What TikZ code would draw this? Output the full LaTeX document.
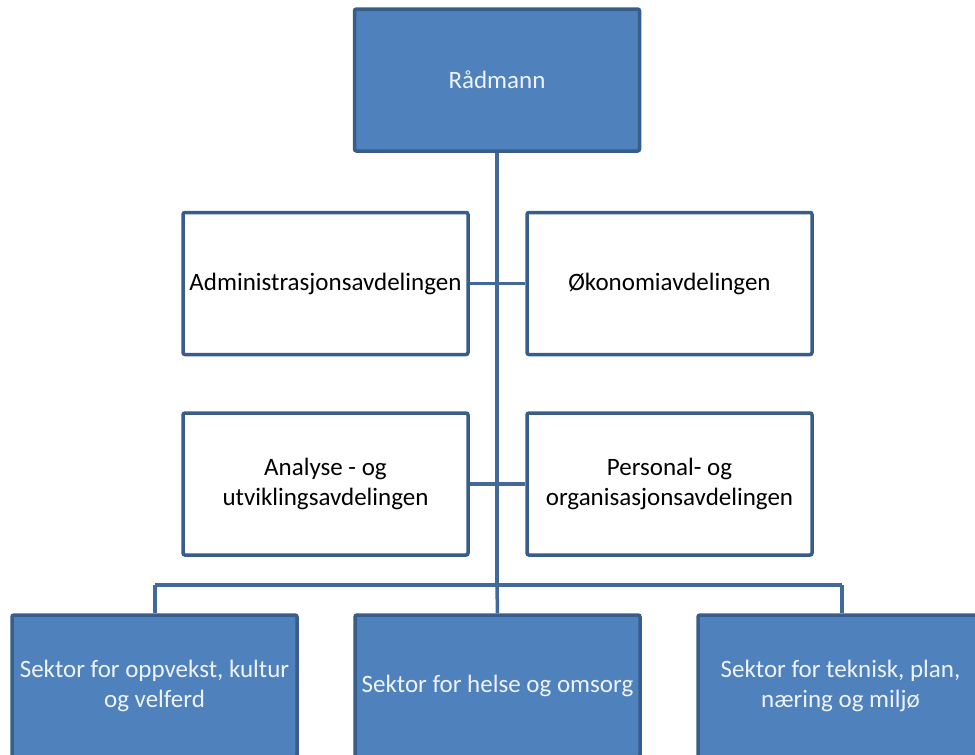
\documentclass[tikz,border=0pt]{standalone}
\usepackage{fontspec}
\setmainfont{Carlito}
\definecolor{boxfill}{HTML}{4F81BD}
\definecolor{boxline}{HTML}{385D8A}
\definecolor{conline}{HTML}{42699A}
\definecolor{lighttext}{HTML}{EEF3FA}
\begin{document}
\begin{tikzpicture}[x=1pt,y=-1pt,
  base/.style={draw=boxline, line width=3.5pt, rounded corners=2pt, minimum width=285pt, minimum height=142pt, inner sep=0pt, align=center, font=\fontsize{25}{30}\selectfont},
  bluebox/.style={base, fill=boxfill, text=lighttext},
  whitebox/.style={base, fill=white, text=black},
  con/.style={draw=conline, line width=3.5pt}]
\useasboundingbox (0,0) rectangle (975,755);
\clip (0,0) rectangle (975,755);
% boxes
\node[bluebox] (rad) at (497,80) {Rådmann};
\node[whitebox] (adm) at (325.5,283.5) {Administrasjonsavdelingen};
\node[whitebox] (oko) at (669.5,283.5) {Økonomiavdelingen};
\node[whitebox] (ana) at (325.5,484) {Analyse - og\\utviklingsavdelingen};
\node[whitebox] (per) at (669.5,484) {Personal- og\\organisasjonsavdelingen};
\coordinate (bus) at (497,585);
\coordinate (busl) at (155,585);
\coordinate (busr) at (842,585);
% connectors
\draw[con] (rad.south) -- (bus);
\draw[con] (adm.east) -- (oko.west);
\draw[con] (ana.east) -- (per.west);
\draw[con] (busl) -- (busr);
\node[bluebox] (s1) at (154.5,686) {Sektor for oppvekst, kultur\\og velferd};
\node[bluebox] (s2) at (497.5,686) {Sektor for helse og omsorg};
\node[bluebox] (s3) at (840.5,686) {Sektor for teknisk, plan,\\næring og miljø};
\draw[con] (busl) -- (s1.north -| busl);
\draw[con] (bus) -- (s2.north);
\draw[con] (busr) -- (s3.north -| busr);
\end{tikzpicture}
\end{document}
